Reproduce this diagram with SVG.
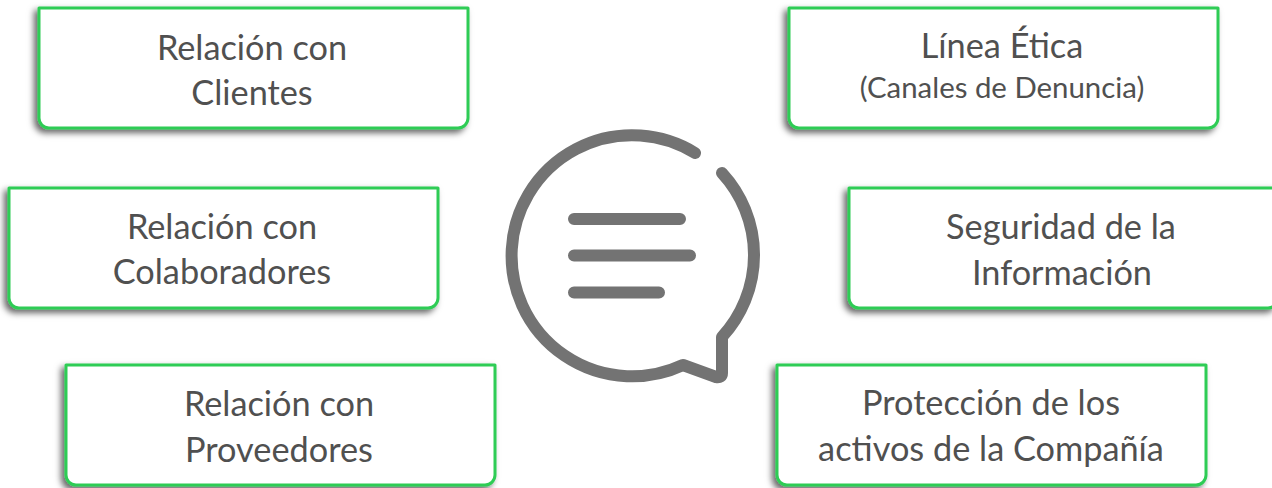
<svg xmlns="http://www.w3.org/2000/svg" width="1272" height="488" viewBox="0 0 1272 488">
<style>
.box{fill:#fff;stroke:#2fcc55;stroke-width:3;stroke-linejoin:round;filter:url(#sh)}
.t{font-family:"Lato","Open Sans","Liberation Sans",sans-serif;font-size:34.300px;fill:#505050;text-anchor:middle}
.s{font-size:29.400px}
.ic{fill:none;stroke:#737373;stroke-width:12;stroke-linecap:round;stroke-linejoin:round}
</style>
<defs>
<filter id="sh" x="-5%" y="-10%" width="110%" height="125%"><feDropShadow dx="-3.500" dy="3.500" stdDeviation="3" flood-color="#000" flood-opacity=".6"/></filter>
<path id="b" d="M0 0H429V110a10 10 0 0 1-10 10H10a10 10 0 0 1-10-10Z"/>
</defs>
<g id="node-clientes"><use href="#b" class="box" x="39" y="8"/><text class="t" x="252" y="60">Relación con</text><text class="t" x="252" y="105">Clientes</text></g>
<g id="node-colaboradores"><use href="#b" class="box" x="9" y="188"/><text class="t" x="222" y="239">Relación con</text><text class="t" x="222" y="284">Colaboradores</text></g>
<g id="node-proveedores"><use href="#b" class="box" x="66" y="365"/><text class="t" x="279" y="416">Relación con</text><text class="t" x="279" y="462">Proveedores</text></g>
<g id="node-linea"><use href="#b" class="box" x="789" y="8"/><text class="t" x="1002" y="58">Línea Ética</text><text class="t s" x="1002" y="98">(Canales de Denuncia)</text></g>
<g id="node-seguridad"><use href="#b" class="box" x="849" y="188"/><text class="t" x="1061" y="239">Seguridad de la</text><text class="t" x="1062" y="285">Información</text></g>
<g id="node-activos"><use href="#b" class="box" x="777" y="365"/><text class="t" x="991" y="415">Protección de los</text><text class="t" x="991" y="461">activos de la Compañía</text></g>
<g id="node-icon" class="ic">
<path d="M695 153A120.500 120.500 0 1 0 683 365L716 377Q722 378 722 373V337A121 121 0 0 0 722 173"/>
<path d="M574 219H680M574 255.500H690M574 292.500H659"/>
</g>
</svg>
